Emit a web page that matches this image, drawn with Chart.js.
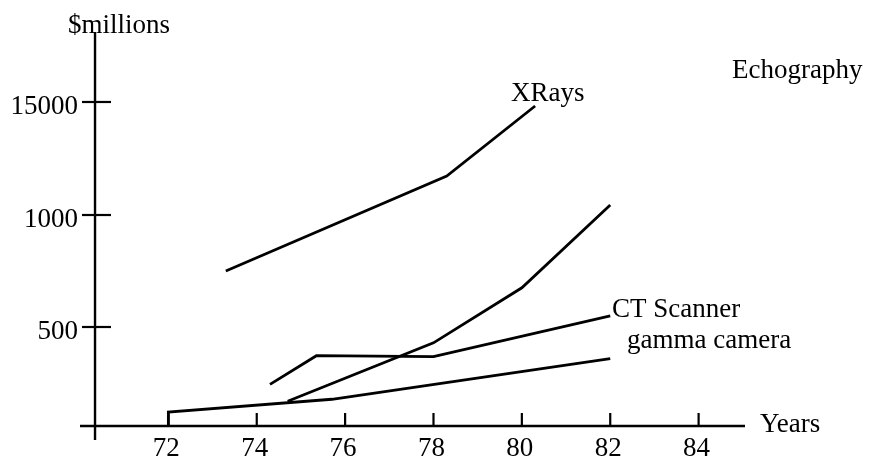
<!DOCTYPE html>
<html>
<head>
<meta charset="utf-8">
<style>
  html, body { margin: 0; padding: 0; background: #ffffff; }
  #wrap { width: 869px; height: 462px; }
</style>
<script src="https://cdn.jsdelivr.net/npm/chart.js@4/dist/chart.umd.min.js"></script>
</head>
<body>
<div id="wrap"><canvas id="chart" width="869" height="462"></canvas></div>
<script>
// Market size by imaging technique, $millions per year
const xTickYears = [72, 74, 76, 78, 80, 82, 84];
const yTickValues = [500, 1000, 15000];
const yTickLabels = ['500', '1000', '15000'];

const xraysYears = [73.3, 78.3, 80.3];
const xraysValues = [750, 5830, 14500];

const echoYears = [74.7, 78, 80, 82];
const echoValues = [125, 420, 675, 2240];

const ctYears = [74.3, 75.35, 78, 82];
const ctValues = [210, 355, 350, 550];

const gammaYears = [72, 72, 75.7, 82];
const gammaValues = [0, 70, 135, 340];

// The value axis gives each mark its own slot, so it is stretched piecewise
const yBreakValues = [0, 500, 1000, 15000];
const yBreakSlots = [0, 0.876, 1.867, 2.867];

function toSlot(v) {
  let i = 0;
  while (i < yBreakValues.length - 2 && v > yBreakValues[i + 1]) i++;
  const v0 = yBreakValues[i], v1 = yBreakValues[i + 1];
  const s0 = yBreakSlots[i], s1 = yBreakSlots[i + 1];
  return s0 + (v - v0) / (v1 - v0) * (s1 - s0);
}

function points(xs, ys) {
  return xs.map((x, i) => ({ x: x, y: toSlot(ys[i]) }));
}

const FONT = 'Liberation Serif, "Times New Roman", serif';
const INK = '#000000';

function series(label, xs, ys) {
  return {
    label: label,
    data: points(xs, ys),
    borderColor: INK,
    borderWidth: 2.8,
    pointRadius: 0,
    tension: 0,
    fill: false,
    clip: false
  };
}

// Crossing axes, tick marks and the text labels on the plot
const crossAxes = {
  id: 'crossAxes',
  afterDraw(chart) {
    const ctx = chart.ctx;
    const xs = chart.scales.x, ys = chart.scales.y;
    const area = chart.chartArea;
    const axisY = ys.getPixelForValue(0);
    const axisX = xs.getPixelForValue(70.34);
    ctx.save();
    ctx.strokeStyle = INK;
    ctx.lineWidth = 2.4;
    ctx.lineCap = 'butt';
    // horizontal axis
    ctx.beginPath();
    ctx.moveTo(area.left, axisY);
    ctx.lineTo(area.right, axisY);
    ctx.stroke();
    // vertical axis, running a little below the horizontal one
    ctx.beginPath();
    ctx.moveTo(axisX, area.top + 2);
    ctx.lineTo(axisX, axisY + 14);
    ctx.stroke();
    // year ticks, standing on the axis
    ctx.lineWidth = 2.2;
    xTickYears.forEach(yr => {
      const px = xs.getPixelForValue(yr);
      ctx.beginPath();
      ctx.moveTo(px, axisY - 13);
      ctx.lineTo(px, axisY);
      ctx.stroke();
    });
    // value ticks, crossing the axis
    yTickValues.forEach(v => {
      const py = ys.getPixelForValue(toSlot(v));
      ctx.beginPath();
      ctx.moveTo(axisX - 13, py);
      ctx.lineTo(axisX + 16, py);
      ctx.stroke();
    });
    // texts
    ctx.fillStyle = INK;
    ctx.font = '27px ' + FONT;
    ctx.textAlign = 'left';
    ctx.textBaseline = 'alphabetic';
    ctx.fillText('$millions', 68, 33);
    ctx.fillText('Echography', 732, 78);
    ctx.fillText('XRays', 511, 101);
    ctx.fillText('CT Scanner', 612, 317);
    ctx.fillText('gamma camera', 627, 348);
    ctx.fillText('Years', 760, 432);
    ctx.restore();
  }
};

new Chart(document.getElementById('chart'), {
  type: 'line',
  data: {
    datasets: [
      series('XRays', xraysYears, xraysValues),
      series('Echography', echoYears, echoValues),
      series('CT Scanner', ctYears, ctValues),
      series('gamma camera', gammaYears, gammaValues)
    ]
  },
  options: {
    responsive: false,
    maintainAspectRatio: false,
    animation: false,
    events: [],
    layout: { padding: { left: 0, right: 124, top: 30, bottom: 0 } },
    plugins: {
      legend: { display: false },
      tooltip: { enabled: false },
      title: { display: false }
    },
    scales: {
      x: {
        type: 'linear',
        position: 'bottom',
        min: 70,
        max: 85.05,
        grid: { display: false, drawTicks: false },
        border: { display: false },
        afterBuildTicks: s => { s.ticks = xTickYears.map(v => ({ value: v })); },
        afterFit: s => { s.height = 36; },
        ticks: {
          color: INK,
          font: { family: FONT, size: 27 },
          padding: 7,
          labelOffset: -2,
          maxRotation: 0,
          autoSkip: false,
          callback: v => String(v)
        }
      },
      y: {
        type: 'linear',
        position: 'left',
        min: 0,
        max: 3.504,
        grid: { display: false, drawTicks: false },
        border: { display: false },
        afterBuildTicks: s => { s.ticks = yTickValues.map(v => ({ value: toSlot(v) })); },
        afterFit: s => { s.width = 80; },
        ticks: {
          color: INK,
          font: { family: FONT, size: 27 },
          padding: 2,
          labelOffset: 4.5,
          autoSkip: false,
          callback: (v, i) => yTickLabels[i]
        }
      }
    }
  },
  plugins: [crossAxes]
});
</script>
</body>
</html>
